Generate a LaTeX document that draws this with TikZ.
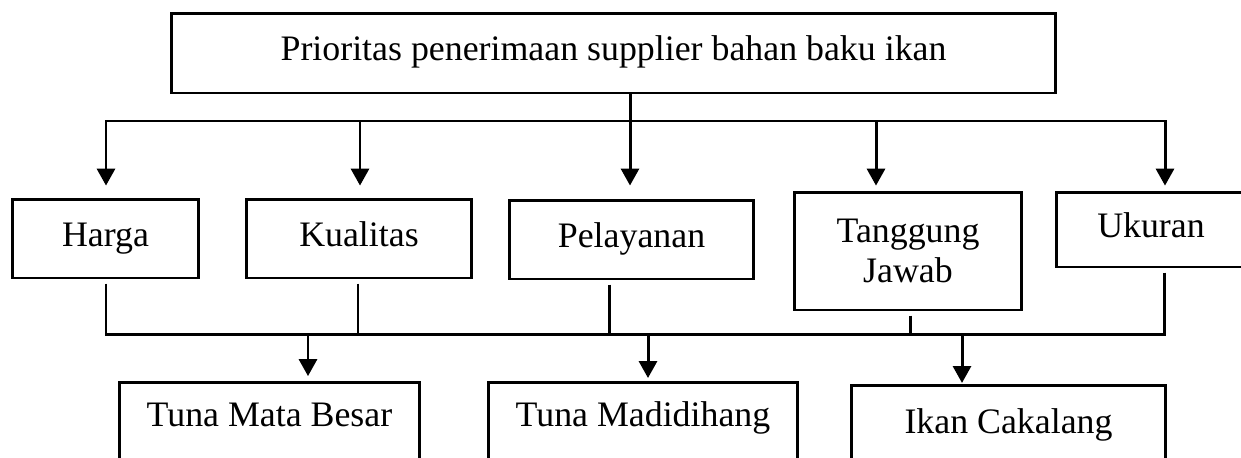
\documentclass[tikz,border=0pt]{standalone}
\usepackage{fontspec}
\setmainfont{Liberation Serif}
\usetikzlibrary{positioning, arrows.meta}

\begin{document}
\begin{tikzpicture}[
    x=0.02cm, y=-0.02cm,
    base/.style={rectangle, draw, line width=1.7pt, inner sep=0pt, font=\fontsize{20.4}{22.5}\selectfont},
    box/.style={base, text height=13.5pt, text depth=4.9pt},
    fish/.style={base, anchor=north, text height=24.9pt, text depth=45pt},
    line/.style={line width=1.7pt},
    arrow/.style={line, -{Triangle[width=10.2pt, length=9.6pt]}}
]
\clip (0,0) rectangle (1241,457);

% Goal
\node[box, minimum width=17.7cm, minimum height=1.6cm] (top) at (613.5,53) {Prioritas penerimaan supplier bahan baku ikan};

% Criteria
\node[box, minimum width=3.74cm, minimum height=1.58cm] (harga) at (105.5,238.5) {Harga};
\node[box, minimum width=4.52cm, minimum height=1.58cm] (kualitas) at (359,238.5) {Kualitas};
\node[box, minimum width=4.9cm, minimum height=1.58cm] (pelayanan) at (631.5,239.5) {Pelayanan};
\node[base, align=center, minimum width=4.56cm, minimum height=2.36cm] (tanggung) at (908,251) {Tanggung\\Jawab};
\node[box, minimum width=3.8cm, minimum height=1.5cm] (ukuran) at (1151,229.5) {Ukuran};

% Alternatives
\node[fish, minimum width=6.02cm] (tmb) at (269.5,381) {Tuna Mata Besar};
\node[fish, minimum width=6.2cm] (tmad) at (643,381) {Tuna Madidihang};
\node[fish, minimum width=6.3cm, text height=27.2pt] (ikan) at (1008.5,384) {Ikan Cakalang};

% Goal to criteria
\foreach \n/\x/\g in {harga/106/6.8pt, kualitas/360/6.8pt, pelayanan/630/7.4pt, tanggung/876/2.8pt, ukuran/1165/2.8pt} {
  \coordinate (in-\n) at (\x,121);
  \draw[arrow, shorten >=\g] (in-\n) -- (in-\n |- \n.north);
}
\draw[line] (top.south -| in-pelayanan) -- (in-pelayanan);
\draw[line, line cap=rect] (in-harga) -- (in-ukuran);

% Criteria to alternatives
\foreach \n/\x in {harga/106, kualitas/358, pelayanan/609, tanggung/910, ukuran/1164} {
  \coordinate (out-\n) at (\x,334);
  \draw[line, shorten <=2.3pt] (out-\n |- \n.south) -- (out-\n);
}
\draw[line, line cap=rect] (out-harga) -- (out-ukuran);

\foreach \n/\x/\g in {tmb/308/2.8pt, tmad/648/1.7pt, ikan/962/0.6pt} {
  \coordinate (to-\n) at (\x,334);
  \draw[arrow, shorten >=\g] (to-\n) -- (to-\n |- \n.north);
}
\end{tikzpicture}
\end{document}
